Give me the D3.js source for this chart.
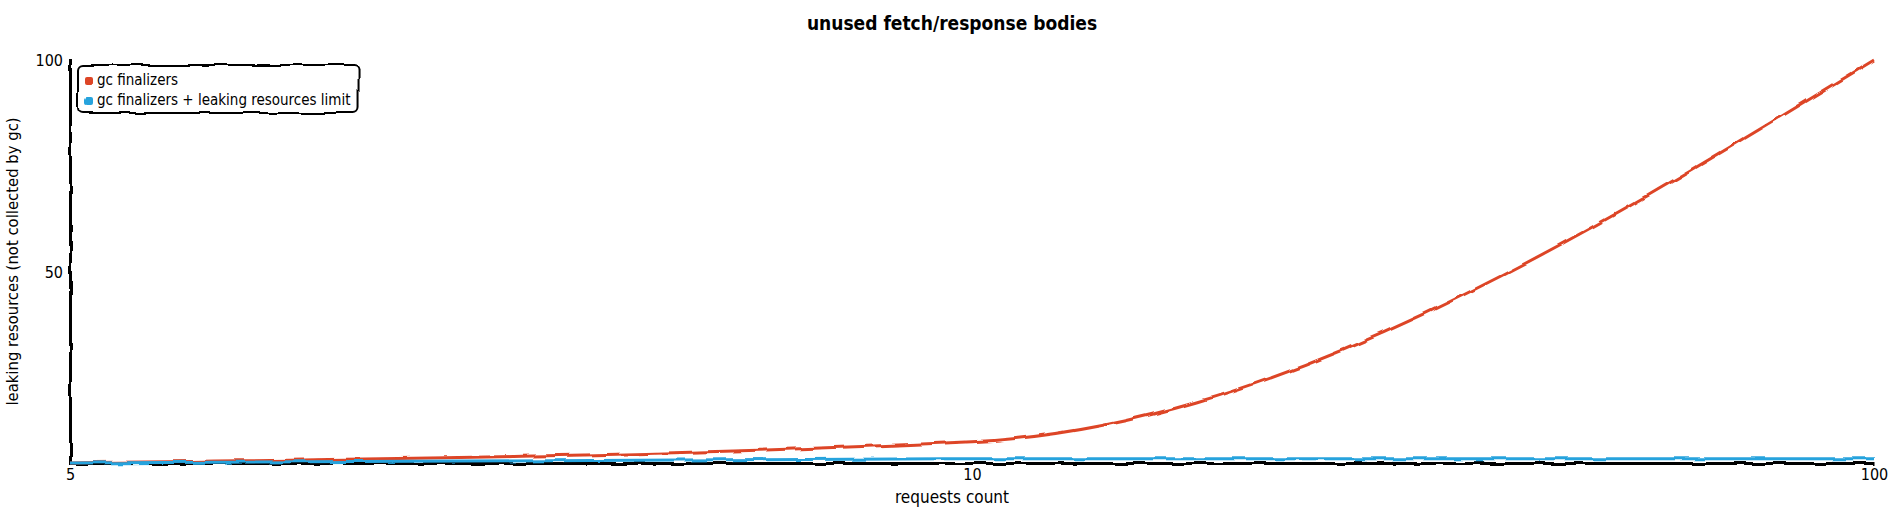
<!DOCTYPE html>
<html>
<head>
<meta charset="utf-8">
<script src="https://cdn.jsdelivr.net/npm/d3@7"></script>
<style>
  html, body { margin: 0; padding: 0; background: #fff; }
  svg { display: block; }
  text { font-family: "Liberation Sans Narrow", "DejaVu Sans Condensed", "Lato", sans-serif; }
</style>
</head>
<body>
<svg id="chart"></svg>
<script>
// ---- data ----
const title = 'unused fetch/response bodies';
const xLabel = 'requests count';
const yLabel = 'leaking resources (not collected by gc)';
const labels = ['5', '10', '100'];
const seriesNames = ['gc finalizers', 'gc finalizers + leaking resources limit'];
const gcFinalizers = [5, 10, 100];
const gcFinalizersLimit = [5, 6, 6];
const colors = ['#dd4528', '#28a3dd'];
const yTickCount = 3;

const series = [
  { name: seriesNames[0], values: gcFinalizers, color: colors[0] },
  { name: seriesNames[1], values: gcFinalizersLimit, color: colors[1] }
];

// ---- layout ----
const W = 1904, H = 513;
const margin = { top: 60, right: 30, bottom: 50, left: 70 };
const width = W - margin.left - margin.right;
const height = H - margin.top - margin.bottom;

const svg = d3.select('#chart').attr('width', W).attr('height', H);

const defs = svg.append('defs');
const filt = defs.append('filter')
  .attr('id', 'xkcdify')
  .attr('filterUnits', 'userSpaceOnUse')
  .attr('x', -5).attr('y', -5)
  .attr('width', '100%').attr('height', '100%');
filt.append('feTurbulence').attr('type', 'fractalNoise').attr('baseFrequency', '0.05').attr('result', 'noise');
filt.append('feDisplacementMap').attr('scale', '5').attr('xChannelSelector', 'R').attr('yChannelSelector', 'G')
  .attr('in', 'SourceGraphic').attr('in2', 'noise');

// title
svg.append('text')
  .style('font-size', '19px').style('font-weight', 'bold')
  .attr('x', '50%').attr('y', 30).attr('text-anchor', 'middle')
  .text(title);

// x label
svg.append('text')
  .style('font-size', '17px')
  .attr('x', '50%').attr('y', H - 10).attr('text-anchor', 'middle')
  .text(xLabel);

// y label
svg.append('text')
  .attr('text-anchor', 'middle')
  .attr('transform', 'rotate(-90)')
  .attr('dy', '.75em')
  .style('font-size', '16.5px')
  .attr('y', 6)
  .attr('x', -(margin.top + height / 2))
  .text(yLabel);

const g = svg.append('g').attr('transform', `translate(${margin.left},${margin.top})`);

const all = series.flatMap(s => s.values);
const x = d3.scalePoint().domain(labels).range([0, width]);
const y = d3.scaleLinear().domain([d3.min(all), d3.max(all)]).range([height, 0]);

const xAxis = g.append('g').attr('transform', `translate(0,${height})`)
  .call(d3.axisBottom(x).tickSize(0).tickPadding(6));
const yAxis = g.append('g')
  .call(d3.axisLeft(y).tickSize(1).tickPadding(6).ticks(yTickCount, 's'));

g.selectAll('.domain').attr('filter', 'url(#xkcdify)').style('stroke', '#000').style('stroke-width', 3);
g.selectAll('.tick line').style('stroke', '#000').style('stroke-width', 3).attr('filter', 'url(#xkcdify)');
xAxis.attr('font-family', null);
yAxis.attr('font-family', null);
g.selectAll('.tick text').style('font-size', '16px').style('fill', '#000');

// lines
const line = d3.line()
  .x((d, i) => x(labels[i]))
  .y(d => y(d))
  .curve(d3.curveMonotoneX);

g.selectAll('.series-line')
  .data(series)
  .join('path')
  .attr('class', 'series-line')
  .attr('d', s => line(s.values))
  .attr('fill', 'none')
  .attr('stroke', s => s.color)
  .attr('stroke-width', 3)
  .attr('filter', 'url(#xkcdify)');

// legend
const legend = g.append('svg').attr('overflow', 'visible');
const bgLayer = legend.append('g');
const textLayer = legend.append('g');
series.forEach((s, i) => {
  textLayer.append('rect')
    .style('fill', s.color)
    .attr('width', 8).attr('height', 8).attr('rx', 2).attr('ry', 2)
    .attr('filter', 'url(#xkcdify)')
    .attr('x', 15).attr('y', 17 + 20 * i);
  textLayer.append('text')
    .style('font-size', '15px').style('fill', '#000')
    .attr('x', 27).attr('y', 17 + 20 * i + 8)
    .text(s.name);
});
const bb = textLayer.node().getBBox();
bgLayer.append('rect')
  .style('fill', '#fff').attr('fill-opacity', 0.85)
  .attr('stroke', '#000').attr('stroke-width', 2)
  .attr('rx', 5).attr('ry', 5)
  .attr('filter', 'url(#xkcdify)')
  .attr('width', bb.width + 15).attr('height', bb.height + 10)
  .attr('x', 8).attr('y', 5);
</script>
</body>
</html>
